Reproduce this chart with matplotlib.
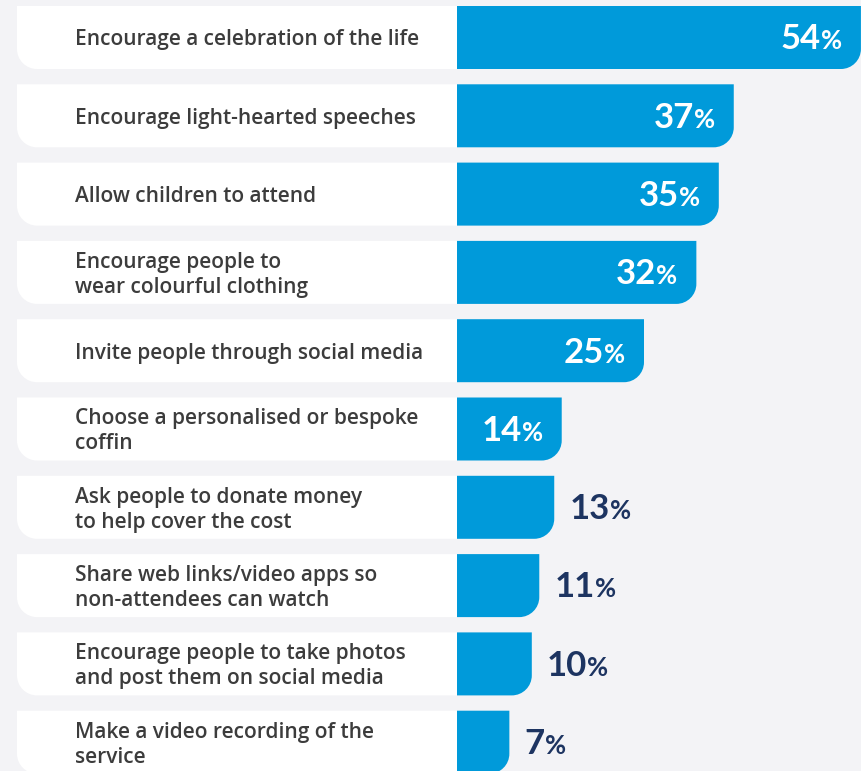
import matplotlib.pyplot as plt
from matplotlib.path import Path
from matplotlib.patches import PathPatch

labels = [
    "Encourage a celebration of the life",
    "Encourage light-hearted speeches",
    "Allow children to attend",
    "Encourage people to\nwear colourful clothing",
    "Invite people through social media",
    "Choose a personalised or bespoke\ncoffin",
    "Ask people to donate money\nto help cover the cost",
    "Share web links/video apps so\nnon-attendees can watch",
    "Encourage people to take photos\nand post them on social media",
    "Make a video recording of the\nservice",
]
values = [54, 37, 35, 32, 25, 14, 13, 11, 10, 7]

BG = "#F3F3F6"
BLUE = "#009ADA"
NAVY = "#1D3461"
GREY_TXT = "#3C3C3C"

# layout in pixel terms (figure is 861x771 at dpi 100)
PX_PER_PCT = 7.48
ROW_PX = 78.3
BAR_H = 63 / ROW_PX
ORIGIN_PX = 457
BOX_LEFT = -(ORIGIN_PX - 17) / PX_PER_PCT
TEXT_X = -(ORIGIN_PX - 75) / PX_PER_PCT
RX = 20 / PX_PER_PCT
RY = 20 / ROW_PX
K = 0.5523

fig = plt.figure(figsize=(8.61, 7.71), dpi=100)
fig.patch.set_facecolor(BG)
ax = fig.add_axes([0, 0, 1, 1])
ax.set_facecolor(BG)
ax.set_xlim(-ORIGIN_PX / PX_PER_PCT, (861 - ORIGIN_PX) / PX_PER_PCT)
ax.set_ylim((771 - 37.5) / ROW_PX, -37.5 / ROW_PX)
ax.axis("off")


def bar_path(v, yt, yb):
    cx, cy = v - RX, yb - RY
    verts = [(0, yt), (v, yt), (v, cy),
             (v, cy + K * RY), (cx + K * RX, yb), (cx, yb),
             (0, yb), (0, yt)]
    codes = [Path.MOVETO, Path.LINETO, Path.LINETO,
             Path.CURVE4, Path.CURVE4, Path.CURVE4,
             Path.LINETO, Path.CLOSEPOLY]
    return Path(verts, codes)


def box_path(yt, yb):
    cx, cy = BOX_LEFT + RX, yb - RY
    verts = [(BOX_LEFT, yt), (0, yt), (0, yb), (cx, yb),
             (cx - K * RX, yb), (BOX_LEFT, cy + K * RY), (BOX_LEFT, cy),
             (BOX_LEFT, yt)]
    codes = [Path.MOVETO, Path.LINETO, Path.LINETO, Path.LINETO,
             Path.CURVE4, Path.CURVE4, Path.CURVE4,
             Path.CLOSEPOLY]
    return Path(verts, codes)


num_style = dict(fontsize=25, fontfamily="Lato", fontweight="bold",
                 va="baseline", annotation_clip=False)
pct_style = dict(fontsize=18.5, fontfamily="Lato", fontweight="bold",
                 va="baseline", annotation_clip=False)

for i, (lab, v) in enumerate(zip(labels, values)):
    yt, yb = i - BAR_H / 2, i + BAR_H / 2
    ax.add_patch(PathPatch(box_path(yt, yb), facecolor="white", edgecolor="none"))
    ax.add_patch(PathPatch(bar_path(v, yt, yb), facecolor=BLUE, edgecolor="none"))
    ax.text(TEXT_X, i + 0.03, lab, ha="left", va="center", fontsize=15,
            fontfamily="Open Sans", fontweight="semibold", color=GREY_TXT,
            linespacing=1.25)

    if v >= 14:
        pct = ax.annotate("%", xy=(v, i), xytext=(-13.5, -8.5),
                          textcoords="offset points", ha="right",
                          color="white", **pct_style)
        ax.annotate(str(v), xy=(0, i), xycoords=(pct, "data"),
                    xytext=(0, -8.5), textcoords="offset points",
                    ha="right", color="white", **num_style)
    else:
        num = ax.annotate(str(v), xy=(v, i), xytext=(11, -8.5),
                          textcoords="offset points", ha="left",
                          color=NAVY, **num_style)
        ax.annotate("%", xy=(1, i), xycoords=(num, "data"),
                    xytext=(0, -8.5), textcoords="offset points",
                    ha="left", color=NAVY, **pct_style)

fig.savefig("out.png", dpi=100, facecolor=BG)
